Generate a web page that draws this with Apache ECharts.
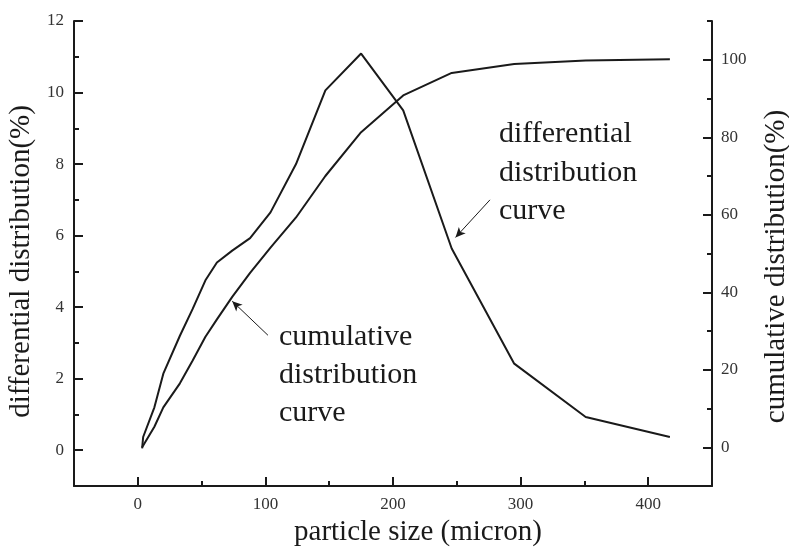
<!DOCTYPE html>
<html>
<head>
<meta charset="utf-8">
<title>particle size distribution</title>
<script src="https://cdn.jsdelivr.net/npm/echarts@6/dist/echarts.min.js"></script>
<style>
  html, body { margin: 0; padding: 0; background: #fff; }
  #chart { width: 789px; height: 551px; }
</style>
</head>
<body>
<div id="chart"></div>
<script>
// particle size (micron)
var sizes = [3.4, 4.2, 13, 20, 33, 43, 53, 62, 74, 88, 104, 124, 147, 175, 208, 246, 295, 351, 417];
// differential distribution (%) - left axis
var differential = [0.05, 0.37, 1.2, 2.14, 3.2, 3.95, 4.75, 5.25, 5.58, 5.93, 6.65, 8.0, 10.06, 11.09, 9.5, 5.64, 2.42, 0.93, 0.37];
// cumulative distribution (%) - right axis
var cumulative = [0, 0.4, 5.3, 10.3, 16.5, 22.4, 28.5, 33, 38.8, 45, 51.5, 59.3, 70, 81.3, 90.8, 96.6, 98.9, 99.8, 100.1];

var xTicks = [0, 100, 200, 300, 400];
var xMinorTicks = [50, 150, 250, 350];
var leftTicks = [0, 2, 4, 6, 8, 10, 12];
var leftMinorTicks = [1, 3, 5, 7, 9, 11];
var rightTicks = [0, 20, 40, 60, 80, 100];
var rightMinorTicks = [10, 30, 50, 70, 90, 110];

var serif = 'Liberation Serif, Times New Roman, serif';
var ink = '#1a1a1a';

function pairs(xs, ys) {
  return xs.map(function (x, i) { return [x, ys[i]]; });
}

var chart = echarts.init(document.getElementById('chart'));

var lineStyle = { color: ink, width: 2 };

// tick-only axes share the range of the main axes
function tickAxis(min, max, position, ticks, len) {
  return {
    type: 'value', min: min, max: max, position: position,
    axisLine: { show: false, onZero: false },
    axisTick: { show: true, inside: true, length: len, customValues: ticks, lineStyle: lineStyle },
    axisLabel: { show: false },
    splitLine: { show: false }
  };
}

chart.setOption({
  animation: false,
  backgroundColor: '#fff',
  grid: { left: 74, right: 77, top: 21, bottom: 65, outerBoundsMode: 'none', containLabel: false },
  xAxis: [
    {
      type: 'value', min: -50, max: 450, position: 'bottom',
      name: 'particle size (micron)', nameLocation: 'middle', nameGap: 28,
      nameTextStyle: { fontFamily: serif, fontSize: 29, color: ink, padding: [0, 0, 0, 50] },
      axisLine: { show: true, onZero: false, lineStyle: lineStyle },
      axisTick: { show: false },
      axisLabel: { customValues: xTicks, margin: 10, fontFamily: serif, fontSize: 17, color: '#333' },
      splitLine: { show: false }
    },
    tickAxis(-50, 450, 'bottom', xTicks, 9),
    tickAxis(-50, 450, 'bottom', xMinorTicks, 5)
  ],
  yAxis: [
    {
      type: 'value', min: -1, max: 12, position: 'left',
      name: 'differential distribution(%)', nameLocation: 'middle', nameGap: 25, nameRotate: 90,
      nameTextStyle: { fontFamily: serif, fontSize: 29, color: ink, padding: [0, 16, 0, 0] },
      axisLine: { show: true, onZero: false, lineStyle: lineStyle },
      axisTick: { show: false },
      axisLabel: { customValues: leftTicks, margin: 10, fontFamily: serif, fontSize: 17, color: '#333' },
      splitLine: { show: false }
    },
    {
      type: 'value', min: -10, max: 110, position: 'right',
      name: 'cumulative distribution(%)', nameLocation: 'middle', nameGap: 50, nameRotate: 90,
      nameTextStyle: { fontFamily: serif, fontSize: 29, color: ink, padding: [0, 26, 0, 0] },
      axisLine: { show: true, onZero: false, lineStyle: lineStyle },
      axisTick: { show: false },
      axisLabel: { customValues: rightTicks, margin: 9, fontFamily: serif, fontSize: 17, color: '#333' },
      splitLine: { show: false }
    },
    tickAxis(-1, 12, 'left', leftTicks, 9),
    tickAxis(-1, 12, 'left', leftMinorTicks, 5),
    tickAxis(-10, 110, 'right', rightTicks, 9),
    tickAxis(-10, 110, 'right', rightMinorTicks, 5)
  ],
  series: [
    {
      name: 'differential distribution curve',
      type: 'line', xAxisIndex: 0, yAxisIndex: 0,
      data: pairs(sizes, differential),
      showSymbol: false, lineStyle: lineStyle,
      markLine: {
        silent: true, symbol: ['none', 'arrow'], symbolSize: [7, 10],
        label: { show: false },
        lineStyle: { color: ink, width: 1, type: 'solid' },
        data: [[{ coord: [276, 7.0] }, { coord: [249, 5.95] }]]
      }
    },
    {
      name: 'cumulative distribution curve',
      type: 'line', xAxisIndex: 0, yAxisIndex: 1,
      data: pairs(sizes, cumulative),
      showSymbol: false, lineStyle: lineStyle,
      markLine: {
        silent: true, symbol: ['none', 'arrow'], symbolSize: [7, 10],
        label: { show: false },
        lineStyle: { color: ink, width: 1, type: 'solid' },
        data: [[{ coord: [102, 28.9] }, { coord: [74, 37.7] }]]
      }
    }
  ],
  graphic: [
    {
      type: 'text', left: 499, top: 115,
      style: { text: 'differential\ndistribution\ncurve', font: '30px ' + serif, fill: ink, lineHeight: 38.5 }
    },
    {
      type: 'text', left: 279, top: 318,
      style: { text: 'cumulative\ndistribution\ncurve', font: '30px ' + serif, fill: ink, lineHeight: 38 }
    }
  ]
});
</script>
</body>
</html>
